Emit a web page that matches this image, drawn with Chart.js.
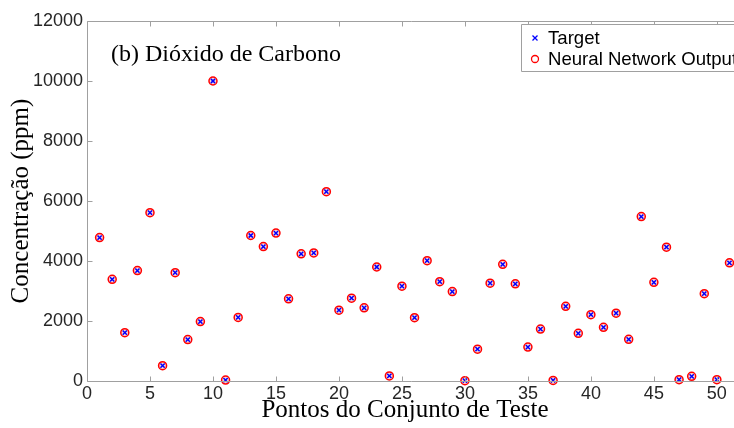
<!DOCTYPE html>
<html>
<head>
<meta charset="utf-8">
<script src="https://cdn.jsdelivr.net/npm/chart.js@4/dist/chart.umd.min.js"></script>
<style>
html,body{margin:0;padding:0;background:#fff;overflow:hidden;width:734px;height:428px;}
canvas{display:block;}
</style>
</head>
<body>
<canvas id="c" width="734" height="428"></canvas>
<script>
const chartTitle = "(b) Dióxido de Carbono";
const xTitle = "Pontos do Conjunto de Teste";
const yTitle = "Concentração (ppm)";
const seriesNames = ["Target", "Neural Network Output"];
const testPoints = [1,2,3,4,5,6,7,8,9,10,11,12,13,14,15,16,17,18,19,20,21,22,23,24,25,26,27,28,29,30,31,32,33,34,35,36,37,38,39,40,41,42,43,44,45,46,47,48,49,50,51];
const targetValues = [4780,3390,1610,3680,5610,510,3610,1380,1980,10000,30,2120,4850,4480,4930,2740,4240,4270,6310,2360,2760,2440,3800,170,3160,2110,4010,3310,2980,10,1060,3260,3890,3240,1130,1730,20,2490,1590,2210,1790,2260,1390,5480,3290,4460,45,155,2910,45,3940];
const networkValues = [4780,3390,1610,3680,5610,510,3610,1380,1980,10000,30,2120,4850,4480,4930,2740,4240,4270,6310,2360,2760,2440,3800,170,3160,2110,4010,3310,2980,10,1060,3260,3890,3240,1130,1730,20,2490,1590,2210,1790,2260,1390,5480,3290,4460,45,155,2910,45,3940];
const xTicks = [0,5,10,15,20,25,30,35,40,45,50];
const yTicks = [0,2000,4000,6000,8000,10000,12000];

const axisColor = '#a0a0a0';
const textColor = '#262626';
const sansFont = '"Liberation Sans", Arial, sans-serif';
const serifFont = '"Liberation Serif", "Times New Roman", serif';

const boxPlugin = {
  id: 'boxPlugin',
  afterDatasetsDraw(chart) {
    const ctx = chart.ctx;
    const a = chart.chartArea;
    const xs = chart.scales.x, ys = chart.scales.y;
    const L = Math.round(a.left) + 0.5, T = Math.round(a.top) + 0.5, B = Math.round(a.bottom) + 0.5;
    ctx.save();
    ctx.strokeStyle = axisColor;
    ctx.lineWidth = 1;
    ctx.beginPath();
    // left, top and bottom edges of the axes box (the right edge lies outside the cropped picture)
    ctx.moveTo(chart.width + 5, T); ctx.lineTo(L, T); ctx.lineTo(L, B); ctx.lineTo(chart.width + 5, B);
    const tl = 5;
    xTicks.forEach(v => {
      const px = Math.round(xs.getPixelForValue(v)) + 0.5;
      ctx.moveTo(px, B); ctx.lineTo(px, B - tl);
      ctx.moveTo(px, T); ctx.lineTo(px, T + tl);
    });
    yTicks.forEach(v => {
      const py = Math.round(ys.getPixelForValue(v)) + 0.5;
      ctx.moveTo(L, py); ctx.lineTo(L + tl, py);
    });
    ctx.stroke();

    // title inside plot
    ctx.fillStyle = '#000';
    ctx.font = '24px ' + serifFont;
    ctx.textAlign = 'left';
    ctx.textBaseline = 'middle';
    ctx.fillText(chartTitle, a.left + 24, 55);

    // axis titles
    ctx.font = '25px ' + serifFont;
    ctx.textAlign = 'center';
    ctx.fillText(xTitle, a.left + 318, 410);
    ctx.save();
    ctx.translate(21, (a.top + a.bottom) / 2);
    ctx.rotate(-Math.PI / 2);
    ctx.fillText(yTitle, 0, 0);
    ctx.restore();

    // legend (its right part is cut off by the picture edge)
    const lx = 521, ly = 24, lh = 47;
    ctx.fillStyle = '#fff';
    ctx.fillRect(lx, ly, chart.width - lx + 5, lh);
    ctx.strokeStyle = axisColor;
    ctx.beginPath();
    ctx.moveTo(chart.width + 5, ly + 0.5); ctx.lineTo(lx + 0.5, ly + 0.5);
    ctx.lineTo(lx + 0.5, ly + lh + 0.5); ctx.lineTo(chart.width + 5, ly + lh + 0.5);
    ctx.stroke();
    ctx.font = '18.6px ' + sansFont;
    ctx.textAlign = 'left';
    ctx.textBaseline = 'middle';
    chart.data.datasets.forEach((ds, i) => {
      const cy = ly + 14 + i * 21;
      const mx = lx + 14;
      ctx.strokeStyle = ds.borderColor;
      ctx.lineWidth = 1.3;
      ctx.beginPath();
      if (ds.pointStyle === 'crossRot') {
        const r = 2.5;
        ctx.moveTo(mx - r, cy - r); ctx.lineTo(mx + r, cy + r);
        ctx.moveTo(mx - r, cy + r); ctx.lineTo(mx + r, cy - r);
      } else {
        ctx.arc(mx, cy, 3.5, 0, Math.PI * 2);
      }
      ctx.stroke();
      ctx.fillStyle = '#000';
      ctx.fillText(ds.label, lx + 27, cy + 1);
    });
    ctx.restore();
  }
};

const toPts = vals => testPoints.map((x, i) => ({x: x, y: vals[i]}));

new Chart(document.getElementById('c'), {
  type: 'scatter',
  data: {
    datasets: [
      {
        label: seriesNames[0],
        data: toPts(targetValues),
        pointStyle: 'crossRot',
        pointRadius: 3,
        borderColor: '#0000ff',
        backgroundColor: '#0000ff',
        pointBorderWidth: 1.5,
        clip: false,
        order: 0
      },
      {
        label: seriesNames[1],
        data: toPts(networkValues),
        pointStyle: 'circle',
        pointRadius: 4,
        borderColor: '#ff0000',
        backgroundColor: 'rgba(255,80,80,0.25)',
        pointBorderWidth: 1.5,
        clip: false,
        order: 1
      }
    ]
  },
  options: {
    responsive: false,
    animation: false,
    events: [],
    layout: { autoPadding: false, padding: { top: 21, right: 0, left: 0, bottom: 0 } },
    plugins: { legend: { display: false }, tooltip: { enabled: false }, title: { display: false } },
    scales: {
      x: {
        type: 'linear',
        min: 0, max: 51.36,
        afterFit: s => { s.height = 47; s.paddingRight = 0; s.paddingLeft = 0; },
        afterBuildTicks: s => { s.ticks = xTicks.map(v => ({value: v})); },
        grid: { display: false, drawTicks: false },
        border: { display: false },
        ticks: { padding: 2, color: textColor, font: { family: sansFont, size: 18 }, maxRotation: 0, autoSkip: false }
      },
      y: {
        min: 0, max: 12000,
        afterFit: s => { s.width = 87; s.paddingTop = 0; s.paddingBottom = 0; },
        afterBuildTicks: s => { s.ticks = yTicks.map(v => ({value: v})); },
        grid: { display: false, drawTicks: false },
        border: { display: false },
        ticks: { padding: 4, color: textColor, font: { family: sansFont, size: 18 }, autoSkip: false, callback: v => String(v) }
      }
    }
  },
  plugins: [boxPlugin]
});
</script>
</body>
</html>
